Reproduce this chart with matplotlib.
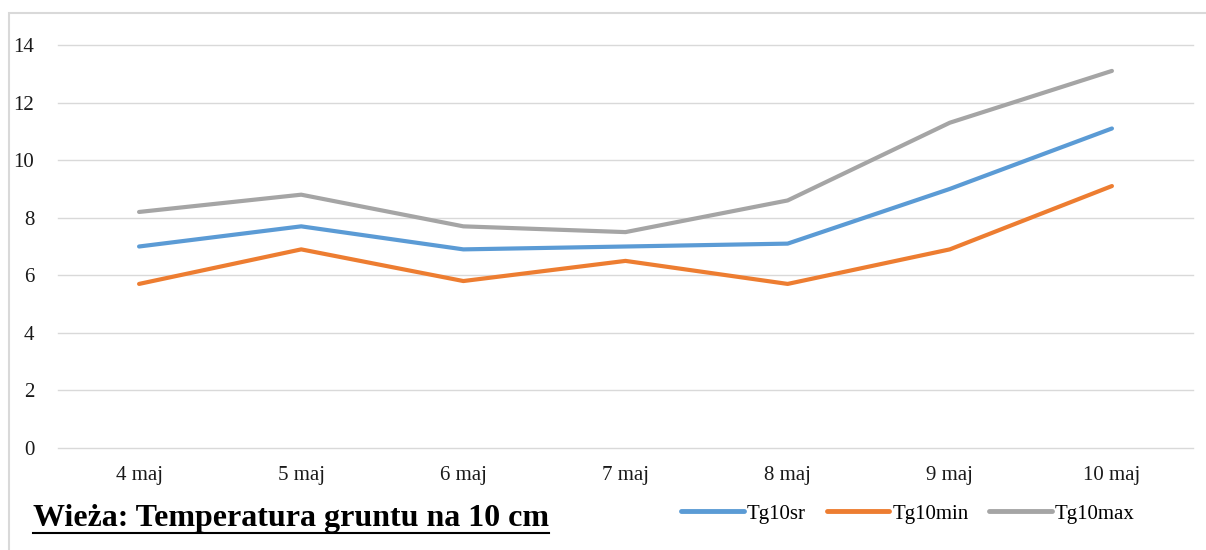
import matplotlib

matplotlib.use("Agg")
import matplotlib.pyplot as plt
from matplotlib.lines import Line2D
from matplotlib.patches import Rectangle

# ---- data ----
days = ["4 maj", "5 maj", "6 maj", "7 maj", "8 maj", "9 maj", "10 maj"]
tg10sr = [7.0, 7.7, 6.9, 7.0, 7.1, 9.0, 11.1]
tg10min = [5.7, 6.9, 5.8, 6.5, 5.7, 6.9, 9.1]
tg10max = [8.2, 8.8, 7.7, 7.5, 8.6, 11.3, 13.1]
yticks = [0, 2, 4, 6, 8, 10, 12, 14]
title = "Wieża: Temperatura gruntu na 10 cm"

plt.rcParams["font.family"] = ["Liberation Serif", "DejaVu Serif"]

W, H = 1206, 550
fig = plt.figure(figsize=(W / 100, H / 100), dpi=100)
ax = fig.add_axes([58 / W, 1 - 448 / H, 1135 / W, 403 / H])

x = list(range(len(days)))
ax.plot(x, tg10sr, color="#5B9BD5", lw=3, solid_capstyle="round", label="Tg10sr")
ax.plot(x, tg10min, color="#ED7D31", lw=3, solid_capstyle="round", label="Tg10min")
ax.plot(x, tg10max, color="#A5A5A5", lw=3, solid_capstyle="round", label="Tg10max")

ax.set_xlim(-0.5, len(days) - 0.5)
ax.set_ylim(0, 14)
ax.set_yticks(yticks)
ax.set_xticks(x)
ax.set_xticklabels(days)
ax.tick_params(axis="both", length=0, labelsize=15, colors="#1a1a1a")
ax.tick_params(axis="y", pad=17)
ax.tick_params(axis="x", pad=13)
ax.grid(axis="y", color="#d9d9d9", lw=1)
for gl in ax.get_ygridlines():
    gl.set_clip_on(False)
ax.set_axisbelow(True)
for s in ax.spines.values():
    s.set_visible(False)

# outer chart frame
fig.add_artist(Rectangle((9 / W, -0.1), 1.2, 1 - 13 / H + 0.1, transform=fig.transFigure,
                         fill=False, edgecolor="#d9d9d9", lw=1.5))

leg = fig.legend(loc="center", bbox_to_anchor=(908 / W, 1 - 514 / H), ncol=3, frameon=False,
                 fontsize=15, handlelength=3.0, handletextpad=0.15, columnspacing=1.0)
for h in leg.get_lines():
    h.set_linewidth(3.5)

t = fig.text(33 / W, 1 - 526 / H, title, fontsize=23, fontweight="bold", va="baseline")
fig.canvas.draw()
bb = t.get_window_extent()
uy = bb.y0 / H
fig.add_artist(Line2D([bb.x0 / W, bb.x1 / W], [uy, uy], transform=fig.transFigure,
                      color="black", lw=1.5))

fig.savefig("out.png", dpi=100)
